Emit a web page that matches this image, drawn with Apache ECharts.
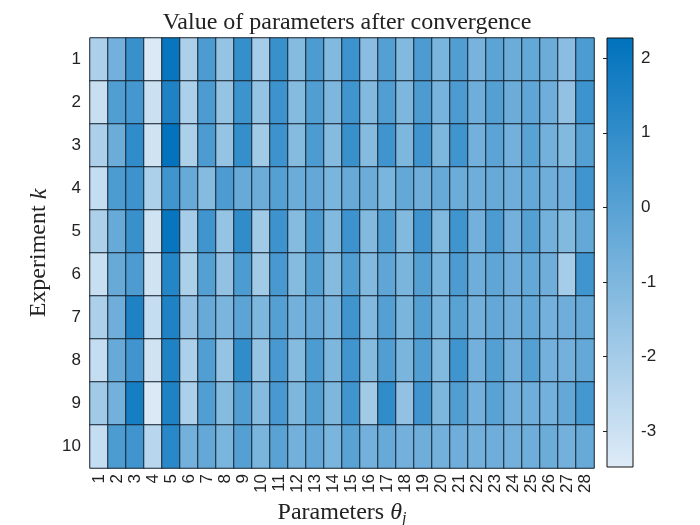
<!DOCTYPE html>
<html><head><meta charset="utf-8">
<script src="https://cdn.jsdelivr.net/npm/echarts@6/dist/echarts.min.js"></script>
<style>html,body{margin:0;padding:0;background:#fff}#c{width:700px;height:525px}</style>
</head><body><div id="c"></div>
<script>
const parameters = ['1','2','3','4','5','6','7','8','9','10','11','12','13','14','15','16','17','18','19','20','21','22','23','24','25','26','27','28'];
const experiments = ['1','2','3','4','5','6','7','8','9','10'];
const exp1  = [-2.2,-0.7,0.8,-3.4,2.1,-2.2,0.3,-1.6,0.9,-2.0,0.8,-1.2,0.3,-1.1,0.7,-1.3,0.1,-1.1,0.3,-0.9,0.2,-0.8,-0.1,-0.5,-0.3,-0.5,-1.3,0.3];
const exp2  = [-2.9,0.2,0.5,-3.0,1.5,-2.2,0.3,-1.6,0.7,-1.6,0.7,-1.2,0.2,-1.0,0.6,-1.1,0.2,-1.0,0.3,-0.8,0.3,-0.6,0.1,-0.5,-0.2,-0.6,-1.5,0.7];
const exp3  = [-2.2,-0.5,1.0,-3.1,2.2,-2.2,0.3,-1.6,0.9,-1.9,0.7,-1.2,0.3,-1.2,0.8,-1.2,0.6,-1.0,0.6,-1.0,0.6,-0.7,-0.1,-0.7,0.0,-0.7,-1.1,0.1];
const exp4  = [-2.8,0.3,0.7,-2.2,0.6,-0.4,-1.2,0.3,-0.4,-0.5,0.1,-0.5,-0.3,-0.9,-0.4,-0.5,-0.9,-0.3,-0.6,-0.4,-0.5,-0.6,-0.4,-0.6,-0.3,-0.6,-0.6,0.6];
const exp5  = [-2.2,-0.4,0.8,-3.1,2.1,-2.0,0.6,-1.6,1.0,-1.9,0.7,-1.2,0.3,-1.1,0.7,-1.1,0.2,-1.1,0.6,-1.1,0.6,-0.7,0.3,-0.7,0.1,-0.7,-1.1,-0.3];
const exp6  = [-2.9,-0.4,0.3,-3.1,1.3,-2.2,0.1,-1.5,0.3,-1.9,0.4,-1.2,0.1,-1.2,0.2,-1.1,-0.2,-0.9,0.1,-0.9,0.3,-0.6,-0.2,-0.6,-0.3,-0.6,-2.0,0.6];
const exp7  = [-2.2,-0.6,1.5,-2.8,1.5,-1.5,-0.4,-0.9,-0.1,-1.0,0.1,-0.7,-0.3,-0.9,0.6,-1.1,0.1,-0.9,0.1,-0.9,0.0,-0.7,-0.3,-0.6,-0.3,-0.7,-0.6,-0.3];
const exp8  = [-2.8,-0.4,0.6,-3.1,1.5,-2.2,0.2,-1.6,1.0,-1.6,0.4,-1.2,0.3,-1.0,0.6,-1.2,0.2,-0.9,0.2,-1.1,0.6,-0.7,0.1,-0.7,0.1,-0.7,-0.7,-0.3];
const exp9  = [-1.9,-0.7,1.7,-3.4,1.5,-2.2,0.2,-1.2,0.2,-1.2,0.4,-1.0,0.1,-1.0,0.6,-1.9,1.0,-1.5,0.6,-1.0,0.2,-0.7,0.0,-0.7,-0.6,-0.7,-0.3,0.5];
const exp10 = [-2.8,0.3,0.6,-2.5,1.2,-0.7,-0.3,-0.9,0.1,-0.9,0.0,-0.7,-0.3,-0.9,0.0,-0.7,-0.4,-0.7,-0.6,-0.7,-0.6,-0.7,-0.6,-0.7,-0.6,-0.5,-0.7,-0.4];
const colorbarMin = -3.48;
const colorbarMax = 2.27;
const colorbarTicks = [-3, -2, -1, 0, 1, 2];
const rows = [exp1, exp2, exp3, exp4, exp5, exp6, exp7, exp8, exp9, exp10];

const LIGHT = '#DEEBF7', DARK = '#0072BD';
const cells = [];
rows.forEach((r, yi) => r.forEach((v, xi) => cells.push([xi, yi, v])));

const chart = echarts.init(document.getElementById('c'));
const sans = 'Liberation Sans, Arial, Helvetica, sans-serif';
const serif = 'Liberation Serif, DejaVu Serif, Times New Roman, serif';
chart.setOption({
  animation: false,
  backgroundColor: '#fff',
  title: {
    text: 'Value of parameters after convergence',
    left: 342, top: 6, textAlign: 'center',
    textStyle: {fontFamily: serif, fontWeight: 'normal', fontSize: 24, color: '#222'}
  },
  grid: [
    {left: 90, right: 106, top: 38, bottom: 57, containLabel: false, outerBoundsMode: 'none'},
    {left: 607, width: 26, top: 38, bottom: 58, containLabel: false, outerBoundsMode: 'none'}
  ],
  xAxis: [
    {type: 'category', data: parameters, gridIndex: 0,
     axisLine: {show: false}, axisTick: {show: false}, splitLine: {show: false},
     axisLabel: {rotate: 90, fontFamily: sans, fontSize: 17, color: '#222', margin: 6, interval: 0},
     name: '{n|Parameters }{t|θ}{s|j}', nameLocation: 'middle', nameGap: 29,
     nameTextStyle: {rich: {
       n: {fontFamily: serif, fontSize: 24, color: '#222'},
       t: {fontFamily: serif, fontSize: 24, fontStyle: 'italic', color: '#222'},
       s: {fontFamily: serif, fontSize: 16, fontStyle: 'italic', color: '#222', padding: [12, 0, 0, 0]}
     }}},
    {type: 'value', gridIndex: 1, min: 0, max: 1, show: false}
  ],
  yAxis: [
    {type: 'category', data: experiments, inverse: true, gridIndex: 0,
     axisLine: {show: false}, axisTick: {show: false}, splitLine: {show: false},
     axisLabel: {fontFamily: sans, fontSize: 17, color: '#222', margin: 9},
     name: '{n|Experiment }{k|k}', nameLocation: 'middle', nameGap: 38, nameRotate: 90,
     nameTextStyle: {rich: {
       n: {fontFamily: serif, fontSize: 24, color: '#222'},
       k: {fontFamily: serif, fontSize: 24, fontStyle: 'italic', color: '#222'}
     }}},
    {type: 'value', gridIndex: 1, min: colorbarMin, max: colorbarMax, position: 'right',
     axisLine: {show: false}, splitLine: {show: false},
     axisTick: {show: true, inside: true, length: 4, customValues: colorbarTicks, lineStyle: {color: '#222'}},
     axisLabel: {customValues: colorbarTicks, fontFamily: sans, fontSize: 17, color: '#222', margin: 8}}
  ],
  visualMap: {
    show: false, type: 'continuous', min: colorbarMin, max: colorbarMax, dimension: 2, seriesIndex: 0,
    inRange: {color: [LIGHT, DARK]}
  },
  series: [
    {type: 'heatmap', xAxisIndex: 0, yAxisIndex: 0, data: cells,
     itemStyle: {borderColor: '#14202e', borderWidth: 1},
     emphasis: {disabled: true}},
    {type: 'custom', xAxisIndex: 1, yAxisIndex: 1, data: [[0, colorbarMin, colorbarMax]],
     renderItem: function (params, api) {
       const p0 = api.coord([0, api.value(2)]);
       const p1 = api.coord([1, api.value(1)]);
       return {type: 'rect', shape: {x: p0[0], y: p0[1], width: p1[0] - p0[0], height: p1[1] - p0[1]},
         style: {fill: new echarts.graphic.LinearGradient(0, 0, 0, 1, [{offset: 0, color: DARK}, {offset: 1, color: LIGHT}]),
                 stroke: '#111', lineWidth: 1}, z2: -1};
     }}
  ]
});
</script></body></html>
